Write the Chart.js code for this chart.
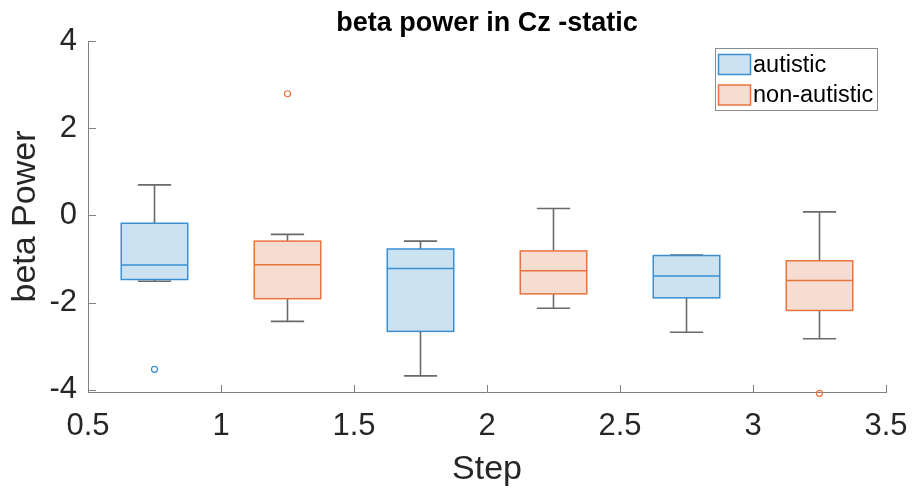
<!DOCTYPE html>
<html>
<head>
<meta charset="utf-8">
<script src="https://cdn.jsdelivr.net/npm/chart.js@4.4.1/dist/chart.umd.min.js"></script>
<style>
  body { margin: 0; background: #fff; }
  .c-chart { width: 912px; height: 491px; }
</style>
</head>
<body>
<div class="c-chart"><canvas id="myChart"></canvas></div>
<script>
// data
const groups = ['autistic', 'non-autistic'];
const xTicks = [0.5, 1, 1.5, 2, 2.5, 3, 3.5];
const yTicks = [-4, -2, 0, 2, 4];

const autisticPos = [0.75, 1.75, 2.75];
const autisticHigh = [0.70, -0.59, -0.91];
const autisticQ3 = [-0.18, -0.77, -0.92];
const autisticMedian = [-1.14, -1.22, -1.39];
const autisticQ1 = [-1.47, -2.66, -1.89];
const autisticLow = [-1.51, -3.68, -2.68];
const autisticOutlierX = [0.75];
const autisticOutlierY = [-3.53];

const nonPos = [1.25, 2.25, 3.25];
const nonHigh = [-0.435, 0.16, 0.08];
const nonQ3 = [-0.59, -0.815, -1.04];
const nonMedian = [-1.13, -1.27, -1.49];
const nonQ1 = [-1.91, -1.80, -2.18];
const nonLow = [-2.43, -2.13, -2.83];
const nonOutlierX = [1.25, 3.25];
const nonOutlierY = [2.79, -4.08];

// styles
const edgeColors = ['#3a8fd1', '#e8733f'];
const fillColors = ['#cce2f1', '#f7ddd1'];
const whiskerColor = '#6a6a6a';
const axisColor = '#808080';
const textColor = '#262626';
const fontFamily = '"Liberation Sans", Arial, Helvetica, sans-serif';
const titleText = 'beta power in Cz -static';
const boxWidth = 0.25;
const capWidth = 0.125;

const makeSeries = function (pos, high, q3, med, q1, low) {
  return pos.map((p, i) => ({ pos: p, high: high[i], q3: q3[i], med: med[i], q1: q1[i], low: low[i] }));
};

const makeChart = function () {
  const series = [
    makeSeries(autisticPos, autisticHigh, autisticQ3, autisticMedian, autisticQ1, autisticLow),
    makeSeries(nonPos, nonHigh, nonQ3, nonMedian, nonQ1, nonLow),
  ];

  const data = {
    datasets: [
      {
        label: groups[0],
        data: autisticOutlierX.map((v, i) => ({ x: v, y: autisticOutlierY[i] })),
        borderColor: edgeColors[0],
        backgroundColor: 'rgba(0,0,0,0)',
        pointRadius: 3,
        pointBorderWidth: 1.2,
        clip: false,
      },
      {
        label: groups[1],
        data: nonOutlierX.map((v, i) => ({ x: v, y: nonOutlierY[i] })),
        borderColor: edgeColors[1],
        backgroundColor: 'rgba(0,0,0,0)',
        pointRadius: 3,
        pointBorderWidth: 1.2,
        clip: false,
      },
    ],
  };

  // boxes + whiskers, drawn through the scales
  const boxPlot = {
    id: 'boxPlot',
    beforeDatasetsDraw(chart) {
      const { ctx, scales: { x, y } } = chart;
      ctx.save();
      series.forEach((list, g) => {
        list.forEach((b) => {
          const xc = x.getPixelForValue(b.pos);
          const xl = x.getPixelForValue(b.pos - boxWidth / 2);
          const xr = x.getPixelForValue(b.pos + boxWidth / 2);
          const cl = x.getPixelForValue(b.pos - capWidth / 2);
          const cr = x.getPixelForValue(b.pos + capWidth / 2);
          // whiskers
          ctx.strokeStyle = whiskerColor;
          ctx.lineWidth = 1.6;
          ctx.beginPath();
          ctx.moveTo(xc, y.getPixelForValue(b.q3));
          ctx.lineTo(xc, y.getPixelForValue(b.high));
          ctx.moveTo(cl, y.getPixelForValue(b.high));
          ctx.lineTo(cr, y.getPixelForValue(b.high));
          ctx.moveTo(xc, y.getPixelForValue(b.q1));
          ctx.lineTo(xc, y.getPixelForValue(b.low));
          ctx.moveTo(cl, y.getPixelForValue(b.low));
          ctx.lineTo(cr, y.getPixelForValue(b.low));
          ctx.stroke();
          // box
          const yt = y.getPixelForValue(b.q3);
          const yb = y.getPixelForValue(b.q1);
          ctx.fillStyle = fillColors[g];
          ctx.fillRect(xl, yt, xr - xl, yb - yt);
          ctx.strokeStyle = edgeColors[g];
          ctx.lineWidth = 1.5;
          ctx.strokeRect(xl, yt, xr - xl, yb - yt);
          // median
          const ym = y.getPixelForValue(b.med);
          ctx.beginPath();
          ctx.moveTo(xl, ym);
          ctx.lineTo(xr, ym);
          ctx.stroke();
        });
      });
      ctx.restore();
    },
  };

  // title over the axes, inward tick marks, legend box
  const extras = {
    id: 'extras',
    afterDraw(chart) {
      const { ctx, chartArea, scales: { x, y } } = chart;
      ctx.save();
      ctx.fillStyle = '#000';
      ctx.font = 'bold 27px ' + fontFamily;
      ctx.textAlign = 'center';
      ctx.textBaseline = 'alphabetic';
      ctx.fillText(titleText, (chartArea.left + chartArea.right) / 2, 31);

      ctx.strokeStyle = axisColor;
      ctx.lineWidth = 1;
      ctx.beginPath();
      x.ticks.forEach((t) => {
        const px = Math.round(x.getPixelForValue(t.value)) + 0.5;
        ctx.moveTo(px, y.bottom);
        ctx.lineTo(px, y.bottom - 7);
      });
      y.ticks.forEach((t) => {
        const py = Math.round(y.getPixelForValue(t.value)) + 0.5;
        ctx.moveTo(x.left, py);
        ctx.lineTo(x.left + 8, py);
      });
      ctx.stroke();

      // legend (top right, inside the axes)
      const lx = 715.5, ly = 48.5, lw = 162, lh = 62;
      ctx.fillStyle = '#fff';
      ctx.fillRect(lx, ly, lw, lh);
      ctx.strokeStyle = '#8c8c8c';
      ctx.strokeRect(lx, ly, lw, lh);
      ctx.font = '23.5px ' + fontFamily;
      ctx.textBaseline = 'middle';
      ctx.textAlign = 'left';
      groups.forEach((name, i) => {
        const sy = 54.5 + i * 30.5;
        ctx.fillStyle = fillColors[i];
        ctx.fillRect(718.5, sy, 32, 20);
        ctx.strokeStyle = edgeColors[i];
        ctx.lineWidth = 1.5;
        ctx.strokeRect(718.5, sy, 32, 20);
        ctx.fillStyle = '#000';
        ctx.fillText(name, 753, sy + 11);
      });
      ctx.restore();
    },
  };

  const config = {
    type: 'scatter',
    data,
    options: {
      responsive: true,
      maintainAspectRatio: false,
      animation: false,
      layout: { padding: { left: 0, right: 26, top: 41, bottom: 0 } },
      plugins: {
        legend: { display: false },
        tooltip: { enabled: false },
        title: { display: false },
      },
      scales: {
        x: {
          type: 'linear',
          min: 0.5,
          max: 3.5,
          afterBuildTicks(scale) {
            scale.ticks = xTicks.map((v) => ({ value: v }));
          },
          afterFit(scale) {
            scale.height = 99;
            scale.paddingLeft = 0;
            scale.paddingRight = 0;
          },
          grid: { display: false, drawTicks: false },
          border: { display: true, color: axisColor, width: 1 },
          ticks: {
            color: textColor,
            padding: 16,
            maxRotation: 0,
            font: { family: fontFamily, size: 31 },
            callback: (v) => String(v),
          },
          title: {
            display: true,
            text: 'Step',
            color: textColor,
            font: { family: fontFamily, size: 34 },
            padding: { top: 0, bottom: 1 },
          },
        },
        y: {
          type: 'linear',
          min: -4.05,
          max: 4,
          afterBuildTicks(scale) {
            scale.ticks = yTicks.map((v) => ({ value: v }));
          },
          afterFit(scale) {
            scale.width = 88;
            scale.paddingTop = 0;
            scale.paddingBottom = 0;
          },
          grid: { display: false, drawTicks: false },
          border: { display: true, color: axisColor, width: 1 },
          ticks: {
            color: textColor,
            padding: 11,
            font: { family: fontFamily, size: 31 },
            callback: (v) => String(v),
          },
          title: {
            display: true,
            text: 'beta Power',
            color: textColor,
            font: { family: fontFamily, size: 34 },
            padding: { top: 5, bottom: 0 },
          },
        },
      },
    },
    plugins: [boxPlot, extras],
  };

  new Chart(document.getElementById('myChart'), config);
};

document.addEventListener('DOMContentLoaded', makeChart);
</script>
</body>
</html>
